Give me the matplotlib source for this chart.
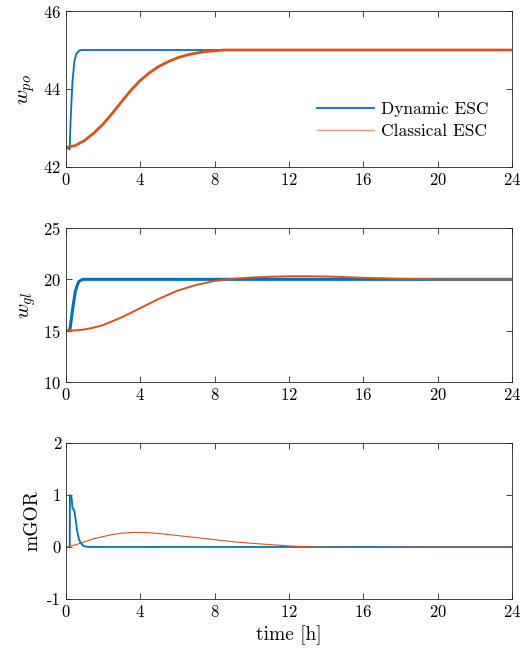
import numpy as np
import matplotlib
matplotlib.use('Agg')
import matplotlib.pyplot as plt

plt.rcParams['font.family'] = 'serif'
plt.rcParams['font.serif'] = ['cmr10', 'DejaVu Serif']
plt.rcParams['mathtext.fontset'] = 'cm'
plt.rcParams['axes.unicode_minus'] = False
plt.rcParams['axes.formatter.use_mathtext'] = True

blue = '#0072BD'
orange = '#D95319'

# w_po
t_po_dyn = [0, 0.2, 0.25, 0.35, 0.45, 0.55, 0.7, 0.85, 24]
po_dyn = [42.5, 42.45, 43.2, 44.2, 44.7, 44.9, 44.98, 45.0, 45.0]
t_po_cls = [0, 0.5, 1.0, 1.5, 2.0, 2.5, 3.0, 3.5, 4.0, 4.5, 5.0, 5.5, 6.0, 6.5, 7.0, 7.5, 8.0, 8.5, 9.5, 24]
po_cls = [42.5, 42.55, 42.68, 42.87, 43.1, 43.38, 43.68, 43.97, 44.22, 44.42, 44.58, 44.7, 44.8, 44.87, 44.92, 44.96, 44.98, 45.0, 45.0, 45.0]

# w_gl
t_gl_dyn = [0, 0.2, 0.25, 0.35, 0.5, 0.6, 0.7, 0.9, 24]
gl_dyn = [15.0, 15.0, 15.6, 17.0, 18.8, 19.4, 19.8, 20.0, 20.0]
t_gl_cls = [0, 0.5, 1.0, 1.5, 2.0, 3.0, 4.0, 5.0, 6.0, 7.0, 8.0, 9.0, 10.0, 11.0, 12.0, 13.0, 14.0, 15.0, 16.0, 17.0, 18.0, 20.0, 24]
gl_cls = [15.0, 15.03, 15.12, 15.3, 15.55, 16.3, 17.2, 18.1, 18.9, 19.45, 19.85, 20.05, 20.18, 20.25, 20.3, 20.3, 20.28, 20.22, 20.15, 20.1, 20.05, 20.0, 20.0]

# mGOR
t_gor_dyn = [0, 0.2, 0.21, 0.3, 0.35, 0.45, 0.55, 0.6, 0.7, 0.8, 0.95, 1.1, 1.3, 24]
gor_dyn = [0, 0, 1.0, 0.95, 0.75, 0.7, 0.45, 0.3, 0.15, 0.07, 0.02, 0.005, 0.0, 0.0]
t_gor_cls = [0, 0.5, 1.0, 1.5, 2.0, 2.5, 3.0, 3.6, 4.2, 5.0, 6.0, 7.0, 8.0, 9.0, 10.0, 11.0, 12.0, 13.0, 14.0, 16.0, 18.0, 20.0, 24]
gor_cls = [0, 0.04, 0.1, 0.16, 0.2, 0.24, 0.265, 0.28, 0.28, 0.26, 0.22, 0.18, 0.14, 0.1, 0.07, 0.045, 0.02, 0.005, -0.005, -0.01, -0.005, 0.0, 0.0]

xticks = [0, 4, 8, 12, 16, 20, 24]

fig = plt.figure(figsize=(5.27, 6.59), dpi=100)
ax1 = fig.add_axes([0.1252, 0.7466, 0.8463, 0.2367])
ax2 = fig.add_axes([0.1252, 0.4203, 0.8463, 0.2337])
ax3 = fig.add_axes([0.1252, 0.0911, 0.8463, 0.2367])

ax1.plot(t_po_dyn, po_dyn, color=blue, lw=1.3, label='Dynamic ESC')
ax1.plot(t_po_cls, po_cls, color=orange, lw=2.0, label='Classical ESC')
ax1.set_ylim(42, 46)
ax1.set_yticks([42, 44, 46])
ax1.set_ylabel(r'$w_{po}$', fontsize=15)
leg = ax1.legend(loc='center right', bbox_to_anchor=(0.982, 0.3), frameon=False,
                 fontsize=12.5, handlelength=3.3, handletextpad=0.4, labelspacing=0.4)
leg.get_lines()[1].set_linewidth(1.0)
leg.get_lines()[1].set_alpha(0.6)
leg.get_lines()[0].set_linewidth(1.3)

ax2.plot(t_gl_dyn, gl_dyn, color=blue, lw=2.2)
ax2.plot(t_gl_cls, gl_cls, color=orange, lw=1.4)
ax2.set_ylim(10, 25)
ax2.set_yticks([10, 15, 20, 25])
ax2.set_ylabel(r'$w_{gl}$', fontsize=15)

ax3.plot(t_gor_dyn, gor_dyn, color=blue, lw=1.3)
ax3.plot(t_gor_cls, gor_cls, color=orange, lw=0.8)
ax3.set_ylim(-1, 2)
ax3.set_yticks([-1, 0, 1, 2])
ax3.set_yticklabels(['-1', '0', '1', '2'])
ax3.set_ylabel('mGOR', fontsize=14)
ax3.set_xlabel('time [h]', fontsize=14)

for ax in (ax1, ax2, ax3):
    ax.set_xlim(0, 24)
    ax.set_xticks(xticks)
    ax.tick_params(direction='in', top=True, right=True, labelsize=12, length=4,
                   color='#262626', width=0.6)
    for s in ax.spines.values():
        s.set_color('#262626')
        s.set_linewidth(0.6)

fig.savefig('out.png', dpi=100)
